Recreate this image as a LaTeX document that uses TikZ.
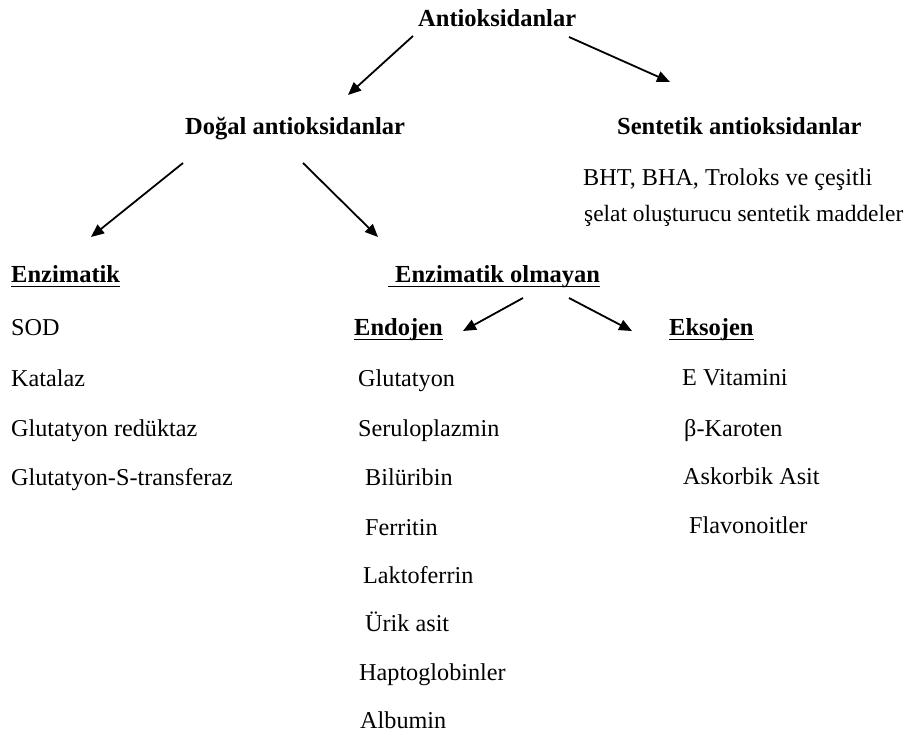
\documentclass[tikz,border=0pt]{standalone}
\usepackage{fontspec}
\setmainfont{Liberation Serif}
\usetikzlibrary{arrows.meta}
\begin{document}
\begin{tikzpicture}[x=1pt,y=-1pt,
  txt/.style={anchor=base west,inner sep=0pt,font=\fontsize{24.2}{28}\selectfont},
  hd/.style={anchor=base west,inner sep=0pt,font=\fontsize{24.5}{28}\selectfont\bfseries},
  arr/.style={line width=1.8pt,-{Triangle[length=13pt,width=11pt]}},
  ul/.style={line width=1.4pt}]
\path[use as bounding box] (0,0) rectangle (911,735);
% headers
\node[hd] (root) at (418,27) {Antioksidanlar};
\node[hd] (dogal) at (185,135) {Doğal antioksidanlar};
\node[hd] (sent) at (617,135) {Sentetik antioksidanlar};
\node[txt] (s1) at (583,186) {BHT, BHA, Troloks ve çeşitli};
\node[txt,font=\fontsize{23.4}{28}\selectfont] (s2) at (584,222) {şelat oluşturucu sentetik maddeler};
\node[hd] (enz) at (11,283) {Enzimatik};
\node[hd] (eo) at (395,283) {Enzimatik olmayan};
\node[hd] (endo) at (354,336) {Endojen};
\node[hd] (ekso) at (669,336) {Eksojen};
% enzimatik list
\node[txt] (e1) at (11,336) {SOD};
\node[txt] (e2) at (11,387) {Katalaz};
\node[txt] (e3) at (11,437) {Glutatyon redüktaz};
\node[txt] (e4) at (11,485) {Glutatyon-S-transferaz};
% endojen list
\node[txt] (n1) at (358,387) {Glutatyon};
\node[txt] (n2) at (358,437) {Seruloplazmin};
\node[txt] (n3) at (365,485) {Bilüribin};
\node[txt] (n4) at (365,535) {Ferritin};
\node[txt] (n5) at (363,583) {Laktoferrin};
\node[txt] (n6) at (365,631) {Ürik asit};
\node[txt] (n7) at (359,680) {Haptoglobinler};
\node[txt] (n8) at (360,728) {Albumin};
% eksojen list
\node[txt] (x1) at (682,386) {E Vitamini};
\node[txt] (x2) at (684,436) {β-Karoten};
\node[txt] (x3) at (683,484) {Askorbik Asit};
\node[txt] (x4) at (689,533) {Flavonoitler};
% underlines
\draw[ul] ([yshift=-3.5pt]enz.base west) -- ([yshift=-3.5pt]enz.base east);
\draw[ul] ([xshift=-7pt,yshift=-3.5pt]eo.base west) -- ([yshift=-3.5pt]eo.base east);
\draw[ul] ([yshift=-3.5pt]endo.base west) -- ([yshift=-3.5pt]endo.base east);
\draw[ul] ([yshift=-3.5pt]ekso.base west) -- ([yshift=-3.5pt]ekso.base east);
% arrow end points
\coordinate (a1s) at (413,36);  \coordinate (a1e) at (348,95);
\coordinate (a2s) at (569,37);  \coordinate (a2e) at (670,82);
\coordinate (a3s) at (183,163); \coordinate (a3e) at (91,237);
\coordinate (a4s) at (303,163); \coordinate (a4e) at (378,237);
\coordinate (a5s) at (523,298); \coordinate (a5e) at (463,331);
\coordinate (a6s) at (569,298); \coordinate (a6e) at (632,331);
\draw[arr] (a1s) -- (a1e);
\draw[arr] (a2s) -- (a2e);
\draw[arr] (a3s) -- (a3e);
\draw[arr] (a4s) -- (a4e);
\draw[arr] (a5s) -- (a5e);
\draw[arr] (a6s) -- (a6e);
\end{tikzpicture}
\end{document}
